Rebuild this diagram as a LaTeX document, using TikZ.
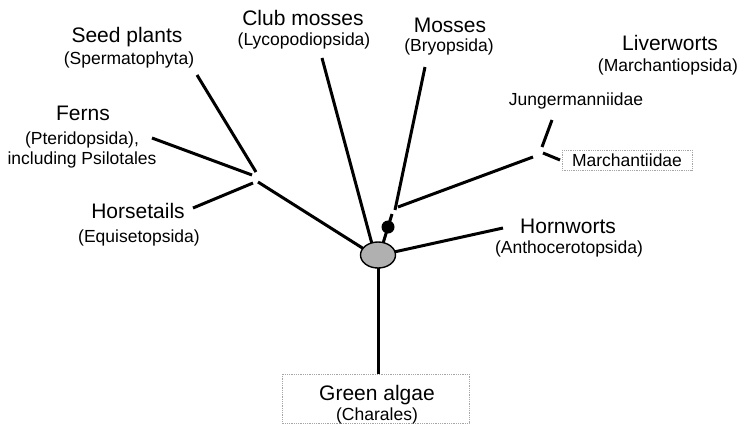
\documentclass[tikz,border=0pt]{standalone}
\usepackage{fontspec}
\usetikzlibrary{shapes.geometric}
\setmainfont{Liberation Sans}
\newcommand\bigtxt{\fontsize{21}{24}\selectfont}
\newcommand\smalltxt{\fontsize{17.5}{20}\selectfont}
\tikzset{
  branch/.style={line width=3pt},
  bigl/.style={anchor=base,inner sep=0pt,font=\bigtxt},
  smalll/.style={anchor=base,inner sep=0pt,font=\smalltxt},
  dotbox/.style={draw=gray!70,densely dotted,line width=0.8pt}
}
\begin{document}
\begin{tikzpicture}[x=1pt,y=-1pt]
\useasboundingbox (0,0) rectangle (741,424);
% labels
\node[bigl] (seed) at (127,42) {Seed plants};
\node[smalll] (seeds) at (129,64) {(Spermatophyta)};
\node[bigl] (club) at (303,25) {Club mosses};
\node[smalll] (clubs) at (304,45) {(Lycopodiopsida)};
\node[bigl] (moss) at (450,32) {Mosses};
\node[smalll] (mosss) at (449,51.5) {(Bryopsida)};
\node[bigl] (liver) at (670,50) {Liverworts};
\node[smalll] (livers) at (668,71) {(Marchantiopsida)};
\node[smalll] (jung) at (576,105.5) {Jungermanniidae};
\node[bigl] (fern) at (83,120) {Ferns};
\node[smalll] (ferns) at (82,144.5) {(Pteridopsida),};
\node[smalll] (fernss) at (82,164) {including Psilotales};
\node[bigl] (horse) at (138,218) {Horsetails};
\node[smalll] (horses) at (139,242) {(Equisetopsida)};
\node[bigl] (horn) at (568,233) {Hornworts};
\node[smalll] (horns) at (569,253) {(Anthocerotopsida)};
% boxes
\draw[dotbox] (282,374) rectangle (469,423);
\node[bigl] (alg) at (377,400) {Green algae};
\node[smalll] (algs) at (377,420) {(Charales)};
\draw[dotbox] (562,150) rectangle (692,170);
\node[smalll] (march) at (627,166) {Marchantiidae};
% coordinates
\coordinate (cSeed) at (197,75);
\coordinate (cSeedJ) at (256,172);
\coordinate (cFern) at (152,138);
\coordinate (cFernJ) at (252,175);
\coordinate (cHorse) at (193,208);
\coordinate (cHorseJ) at (253,183);
\coordinate (cJ1) at (258,182);
\coordinate (cJ1E) at (364,249);
\coordinate (cClub) at (322,58);
\coordinate (cClubE) at (372,244);
\coordinate (cMoss) at (425,67);
\coordinate (cMossJ) at (395,210);
\coordinate (cLivJ) at (398,207);
\coordinate (cLivE) at (533,157);
\coordinate (cJung) at (552,120);
\coordinate (cJungJ) at (542,147);
\coordinate (cMarJ) at (543,153);
\coordinate (cMar) at (560,160);
\coordinate (cHornE) at (394,252);
\coordinate (cHorn) at (503,228);
\coordinate (cAlgTop) at (378,374);
\coordinate (cDotTop) at (392,214);
\coordinate (cEllTop) at (381,250);
% connectors
\draw[branch] (cSeed) -- (cSeedJ);
\draw[branch] (cFern) -- (cFernJ);
\draw[branch] (cHorse) -- (cHorseJ);
\draw[branch] (cJ1) -- (cJ1E);
\draw[branch] (cClub) -- (cClubE);
\draw[branch] (cMoss) -- (cMossJ);
\draw[branch] (cLivJ) -- (cLivE);
\draw[branch] (cJung) -- (cJungJ);
\draw[branch] (cMarJ) -- (cMar);
\draw[branch] (cHornE) -- (cHorn);
% dot
\node[circle,fill=black,minimum size=13pt,inner sep=0pt] (dot) at (388,227) {};
\draw[branch] (cDotTop) -- (dot.center);
\draw[branch] (dot.center) -- (cEllTop);
% ellipse
\draw[branch] (378,262) -- (cAlgTop);
\node[ellipse,draw,line width=1.4pt,fill=gray!62,minimum width=35pt,minimum height=26pt,inner sep=0pt] (ell) at (378,255) {};
\end{tikzpicture}
\end{document}
